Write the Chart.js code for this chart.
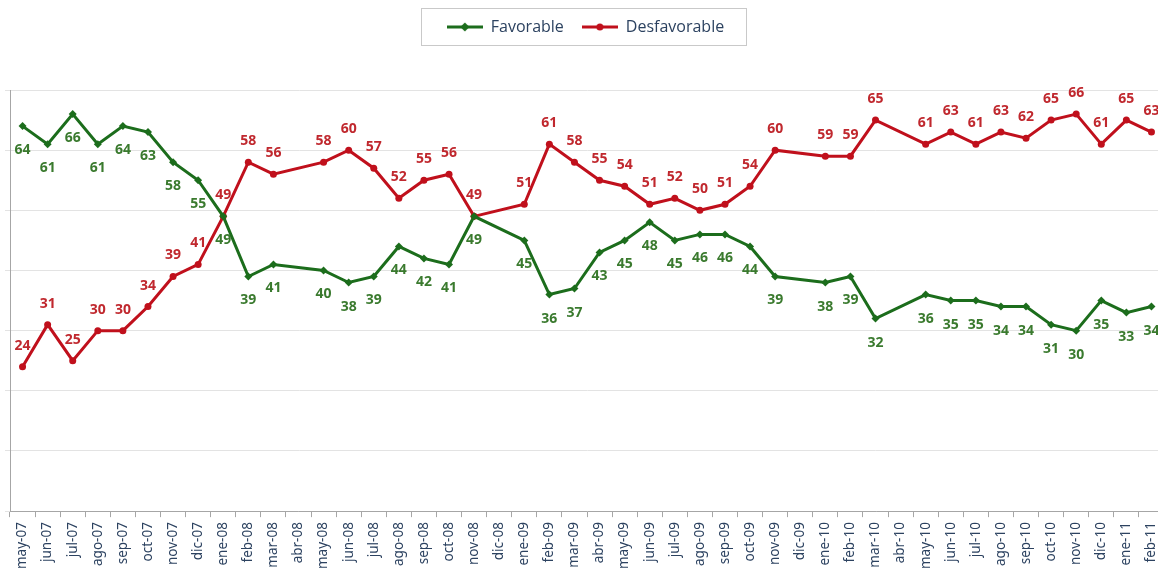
<!DOCTYPE html>
<html>
<head>
<meta charset="utf-8">
<script src="https://cdn.jsdelivr.net/npm/chart.js@4"></script>
<style>
  html, body { margin: 0; padding: 0; background: #fff; overflow: hidden; }
  #wrap { position: relative; width: 1168px; height: 574px; }
</style>
</head>
<body>
<div id="wrap"><canvas id="encuesta" width="1168" height="574"></canvas></div>
<script>
const meses = [
  'may-07', 'jun-07', 'jul-07', 'ago-07', 'sep-07', 'oct-07', 'nov-07', 'dic-07',
  'ene-08', 'feb-08', 'mar-08', 'abr-08', 'may-08', 'jun-08', 'jul-08', 'ago-08',
  'sep-08', 'oct-08', 'nov-08', 'dic-08', 'ene-09', 'feb-09', 'mar-09', 'abr-09',
  'may-09', 'jun-09', 'jul-09', 'ago-09', 'sep-09', 'oct-09', 'nov-09', 'dic-09',
  'ene-10', 'feb-10', 'mar-10', 'abr-10', 'may-10', 'jun-10', 'jul-10', 'ago-10',
  'sep-10', 'oct-10', 'nov-10', 'dic-10', 'ene-11', 'feb-11'
];

const favorable = [
  64, 61, 66, 61, 64, 63, 58, 55,
  49, 39, 41, null, 40, 38, 39, 44,
  42, 41, 49, null, 45, 36, 37, 43,
  45, 48, 45, 46, 46, 44, 39, null,
  38, 39, 32, null, 36, 35, 35, 34,
  34, 31, 30, 35, 33, 34
];

const desfavorable = [
  24, 31, 25, 30, 30, 34, 39, 41,
  49, 58, 56, null, 58, 60, 57, 52,
  55, 56, 49, null, 51, 61, 58, 55,
  54, 51, 52, 50, 51, 54, 60, null,
  59, 59, 65, null, 61, 63, 61, 63,
  62, 65, 66, 61, 65, 63
];

const verde = '#1c6d1c';
const rojo = '#c0101c';

// small line + marker used as legend symbol
function marcaLeyenda(color, estilo) {
  const c = document.createElement('canvas');
  c.width = 36; c.height = 12;
  const g = c.getContext('2d');
  g.strokeStyle = color;
  g.lineWidth = 3;
  g.beginPath(); g.moveTo(0, 6); g.lineTo(36, 6); g.stroke();
  g.fillStyle = color;
  g.beginPath();
  if (estilo === 'rombo') {
    g.moveTo(18, 1.5); g.lineTo(22.5, 6); g.lineTo(18, 10.5); g.lineTo(13.5, 6);
  } else {
    g.arc(18, 6, 3.5, 0, Math.PI * 2);
  }
  g.fill();
  return c;
}

const etiquetas = {
  id: 'etiquetas',
  afterDatasetsDraw(chart) {
    const ctx = chart.ctx;
    ctx.save();
    ctx.font = 'bold 14px "Open Sans", sans-serif';
    ctx.textAlign = 'center';
    ctx.textBaseline = 'middle';
    chart.data.datasets.forEach((ds, i) => {
      const meta = chart.getDatasetMeta(i);
      const dy = i === 0 ? 24 : -21;
      ctx.fillStyle = i === 0 ? '#3a7a2e' : '#c0282e';
      meta.data.forEach((pt, j) => {
        const v = ds.data[j];
        if (v === null) return;
        ctx.fillText(String(v), pt.x, pt.y + dy);
      });
    });
    ctx.restore();
  }
};

const marcoLeyenda = {
  id: 'marcoLeyenda',
  beforeInit(chart) {
    const fitOrig = chart.legend.fit;
    chart.legend.fit = function () {
      fitOrig.bind(chart.legend)();
      this.height += 45;
    };
  },
  afterDraw(chart) {
    const cajas = chart.legend.legendHitBoxes;
    if (!cajas || !cajas.length) return;
    const x0 = Math.min(...cajas.map(b => b.left)) - 26;
    const x1 = Math.max(...cajas.map(b => b.left + b.width)) + 22;
    const y0 = cajas[0].top - 11;
    const y1 = cajas[0].top + cajas[0].height + 10;
    const ctx = chart.ctx;
    ctx.save();
    ctx.strokeStyle = '#c9c9c9';
    ctx.lineWidth = 1;
    ctx.strokeRect(Math.round(x0) + 0.5, Math.round(y0) + 0.5, Math.round(x1 - x0), Math.round(y1 - y0));
    ctx.restore();
  }
};

new Chart(document.getElementById('encuesta'), {
  type: 'line',
  data: {
    labels: meses,
    datasets: [
      {
        label: 'Favorable',
        data: favorable,
        borderColor: verde,
        backgroundColor: verde,
        borderWidth: 3,
        pointStyle: 'rectRot',
        pointRadius: 4,
        pointBorderWidth: 0,
        spanGaps: true,
        tension: 0
      },
      {
        label: 'Desfavorable',
        data: desfavorable,
        borderColor: rojo,
        backgroundColor: rojo,
        borderWidth: 3,
        pointStyle: 'circle',
        pointRadius: 3.5,
        pointBorderWidth: 0,
        spanGaps: true,
        tension: 0
      }
    ]
  },
  options: {
    responsive: false,
    animation: false,
    layout: { padding: { left: 5, right: 2, top: 1, bottom: 0 } },
    plugins: {
      tooltip: { enabled: false },
      legend: {
        position: 'top',
        labels: {
          usePointStyle: true,
          pointStyleWidth: 36,
          padding: 18,
          color: '#2c4260',
          font: { family: '"Open Sans", sans-serif', size: 16 },
          generateLabels(chart) {
            return chart.data.datasets.map((ds, i) => ({
              text: ds.label,
              datasetIndex: i,
              fontColor: '#2c4260',
              pointStyle: marcaLeyenda(ds.borderColor, i === 0 ? 'rombo' : 'circulo'),
              lineWidth: 0,
              strokeStyle: 'transparent',
              fillStyle: 'transparent'
            }));
          }
        }
      }
    },
    scales: {
      x: {
        offset: true,
        afterFit(scale) {
          // the plot runs right to the edge, like the cropped original
          scale.paddingRight = 0;
        },
        grid: {
          offset: true,
          drawOnChartArea: false,
          drawTicks: true,
          tickLength: 6,
          color: '#a6a6a6'
        },
        border: { color: '#a6a6a6', width: 1 },
        ticks: {
          autoSkip: false,
          maxRotation: 90,
          minRotation: 90,
          padding: 5,
          color: '#2c4260',
          font: { family: '"Noto Sans", sans-serif', size: 13.5 }
        }
      },
      y: {
        min: 0,
        max: 70,
        ticks: { display: false, stepSize: 10 },
        grid: {
          color: '#e3e3e3',
          drawTicks: true,
          tickLength: 5
        },
        border: { color: '#a6a6a6', width: 1 }
      }
    }
  },
  plugins: [etiquetas, marcoLeyenda]
});
</script>
</body>
</html>
